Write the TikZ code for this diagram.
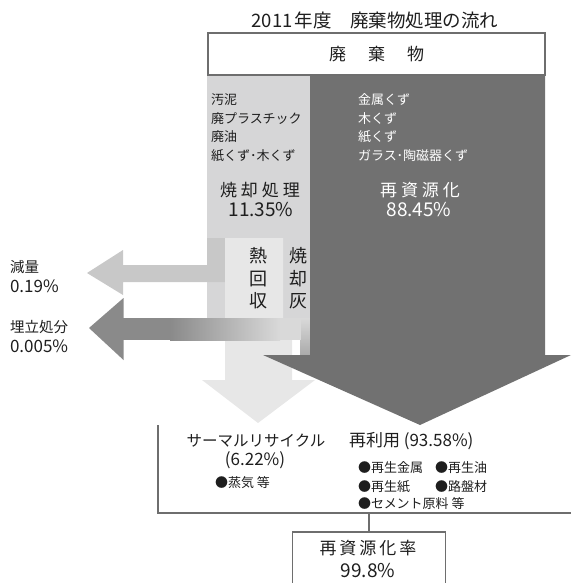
\documentclass[tikz,border=0pt]{standalone}
\usepackage{fontspec}
\setmainfont{Noto Sans CJK JP}
\definecolor{darkg}{HTML}{717171}
\definecolor{colg}{HTML}{D6D6D7}
\definecolor{paleg}{HTML}{E7E7E7}
\definecolor{midg}{HTML}{C8C8C8}
\definecolor{landg}{HTML}{8A8A8A}
\definecolor{landl}{HTML}{D9D9D9}
\definecolor{lineg}{HTML}{6E6E6E}
\definecolor{textc}{HTML}{1E1E1E}
\begin{document}
\begin{tikzpicture}[x=1pt,y=-1pt,
  every node/.style={inner sep=0pt,outer sep=0pt,text=textc},
  conn/.style={draw=lineg,line width=1.4pt},
  fs/.style={font=\fontsize{#1}{#1}\selectfont},
  listL/.style={fs=13,anchor=base west},
  listR/.style={fs=13,anchor=base west,text=white},
  bul/.style={fs=13,anchor=west},
  vert/.style={fs=18}
]
\useasboundingbox (0,0) rectangle (571,583);

% light incineration column
\fill[colg] (207,75) rectangle (310,318);
% reduction arrow (L shaped)
\fill[midg] (207,238) -- (225,238) -- (225,282) -- (123,282) -- (123,295) -- (87,273) -- (123,250) -- (123,265) -- (207,265) -- cycle;
% thermal recovery arrow
\fill[paleg] (225,238) -- (283,238) -- (283,318) -- (292,318) -- (292,380) -- (315,380) -- (258,423) -- (202,380) -- (225,380) -- cycle;
% ash strip
\shade[top color=landl,bottom color=midg!85!black] (300,318) rectangle (310,355);
% landfill arrow
\fill[landg] (123.5,298) -- (89,328) -- (123.5,360) -- cycle;
\fill[landg] (123,318) rectangle (170,340);
\shade[left color=landg,right color=landl] (170,318) rectangle (280,340);
\fill[landl] (280,318) rectangle (300.5,340);
% recycling column + arrow
\fill[darkg] (310,75) -- (545,75) -- (545,355) -- (571,355) -- (420,425) -- (263,355) -- (310,355) -- cycle;

% waste box
\node[draw=lineg,line width=1.3pt,fill=white,minimum width=337pt,minimum height=42pt,anchor=north west,fs=17] (waste) at (208,33) {廃\hspace{22pt}棄\hspace{22pt}物};
\node[fs=18.5] (title) at (375,20) {2011\hspace{2pt}年度　廃棄物処理の流れ};

% lists
\node[listL] (l1) at (211,105) {汚泥};
\node[listL] (l2) at (211,123.5) {廃プラスチック};
\node[listL] (l3) at (211,142) {廃油};
\node[listL] (l4) at (211,160.5) {紙くず･木くず};
\node[listR] (r1) at (358,105) {金属くず};
\node[listR] (r2) at (358,123.5) {木くず};
\node[listR] (r3) at (358,142) {紙くず};
\node[listR] (r4) at (358,160.5) {ガラス･陶磁器くず};

\node[fs=17] (burn) at (260,190) {焼\hspace{4pt}却\hspace{4pt}処\hspace{4pt}理};
\node[fs=19] (burnp) at (261,210) {11.35\%};
\node[fs=17,text=white] (recy) at (420,190) {再\hspace{4pt}資\hspace{4pt}源\hspace{4pt}化};
\node[fs=19,text=white] (recyp) at (419,210) {88.45\%};

\node[vert] (h1) at (258,256) {熱};
\node[vert] (h2) at (258,279) {回};
\node[vert] (h3) at (258,301) {収};
\node[vert] (a1) at (298,256) {焼};
\node[vert] (a2) at (298,279) {却};
\node[vert] (a3) at (298,301) {灰};

\node[fs=14.5,anchor=west] (gen) at (10,267) {減量};
\node[fs=17,anchor=west] (genp) at (10,286) {0.19\%};
\node[fs=14.5,anchor=west] (ume) at (10,327) {埋立処分};
\node[fs=17,anchor=west] (umep) at (10,346) {0.005\%};

% results
\node[fs=15.5] (thermal) at (256,441) {サーマルリサイクル};
\node[fs=17] (thermp) at (255,460) {(6.22\%)};
\node[bul] (steam) at (215,483) {●蒸気 等};
\node[fs=17,anchor=west] (reuse) at (349,441) {再利用 (93.58\%)};
\node[bul] (b1) at (358,468) {●再生金属};
\node[bul] (b2) at (435,468) {●再生油};
\node[bul] (b3) at (358,487) {●再生紙};
\node[bul] (b4) at (435,487) {●路盤材};
\node[bul] (b5) at (358,504) {●セメント原料 等};

% bracket
\coordinate (btop) at (158,425);
\coordinate (bcorner) at (158,513);
\coordinate (bright) at (571,513);
\coordinate (bmid) at (369,513);
\draw[conn] (btop) -- (bcorner) -- (bright);

% rate box
\node[draw=lineg,line width=1.3pt,minimum width=153pt,minimum height=70pt,anchor=north] (rate) at (369,532) {};
\draw[conn] (bmid) -- (rate.north);
\node[fs=17] (ratet) at (368,548) {再\hspace{3pt}資\hspace{3pt}源\hspace{3pt}化\hspace{3pt}率};
\node[fs=19] (ratep) at (368,571) {99.8\%};
\end{tikzpicture}
\end{document}
